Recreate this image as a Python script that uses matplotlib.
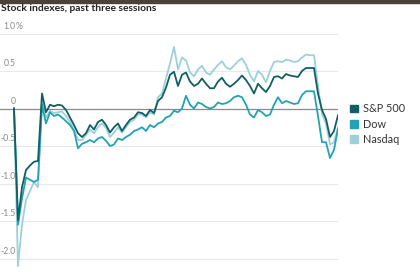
import matplotlib
matplotlib.use("Agg")
import matplotlib.pyplot as plt
import matplotlib.patches as mpatches
from matplotlib.transforms import blended_transform_factory

# Percent change over the past three sessions, sampled at regular intervals
sp500 = [0.00, -1.49, -1.05, -0.82, -0.76, -0.71, -0.70, 0.20, -0.05, 0.05,
         0.03, 0.05, 0.04, -0.02, -0.12, -0.22, -0.33, -0.38, -0.33, -0.22,
         -0.28, -0.18, -0.15, -0.22, -0.32, -0.25, -0.20, -0.30, -0.22, -0.15,
         -0.12, -0.05, -0.06, -0.10, -0.02, -0.06, 0.10, 0.15, 0.28, 0.45,
         0.49, 0.30, 0.45, 0.48, 0.36, 0.30, 0.33, 0.40, 0.33, 0.27,
         0.27, 0.36, 0.41, 0.33, 0.29, 0.33, 0.38, 0.44, 0.38, 0.30,
         0.20, 0.33, 0.27, 0.22, 0.30, 0.42, 0.43, 0.40, 0.46, 0.44,
         0.43, 0.42, 0.50, 0.54, 0.54, 0.54, 0.20, -0.02, -0.14, -0.38,
         -0.30, -0.09]
dow = [0.00, -1.55, -1.20, -0.92, -0.95, -0.98, -0.95, 0.05, -0.20, -0.05,
       -0.10, -0.08, -0.12, -0.17, -0.22, -0.30, -0.53, -0.47, -0.45, -0.42,
       -0.45, -0.40, -0.38, -0.43, -0.50, -0.48, -0.40, -0.42, -0.38, -0.35,
       -0.30, -0.28, -0.25, -0.30, -0.22, -0.25, -0.20, -0.18, -0.12, -0.10,
       -0.03, -0.05, 0.00, 0.17, 0.05, 0.00, 0.08, 0.06, 0.02, 0.00,
       0.02, 0.08, 0.06, 0.07, 0.10, 0.15, 0.17, 0.15, 0.05, -0.08,
       -0.12, -0.02, -0.05, -0.10, -0.08, 0.05, 0.15, 0.07, 0.10, 0.08,
       0.06, 0.07, 0.18, 0.23, 0.23, 0.23, -0.10, -0.45, -0.45, -0.66,
       -0.55, -0.27]
nasdaq = [0.00, -2.10, -1.55, -1.22, -1.10, -0.98, -1.05, 0.10, -0.12, -0.03,
          -0.06, -0.05, -0.04, -0.10, -0.18, -0.28, -0.42, -0.42, -0.35, -0.28,
          -0.33, -0.25, -0.20, -0.26, -0.38, -0.32, -0.25, -0.32, -0.25, -0.18,
          -0.15, -0.08, -0.08, -0.12, -0.05, -0.08, 0.15, 0.20, 0.40, 0.60,
          0.82, 0.52, 0.68, 0.64, 0.48, 0.43, 0.52, 0.57, 0.48, 0.45,
          0.52, 0.58, 0.63, 0.55, 0.52, 0.57, 0.63, 0.67, 0.58, 0.45,
          0.36, 0.50, 0.45, 0.35, 0.50, 0.62, 0.63, 0.62, 0.65, 0.64,
          0.62, 0.63, 0.68, 0.72, 0.71, 0.71, 0.30, -0.08, -0.20, -0.48,
          -0.45, -0.25]

series_names = ["S&P 500", "Dow", "Nasdaq"]
colors = {"S&P 500": "#115e63", "Dow": "#22a2b3", "Nasdaq": "#9dd0da"}
tick_values = [1.0, 0.5, 0.0, -0.5, -1.0, -1.5, -2.0]
tick_labels = ["1.0", "0.5", "0", "-0.5", "-1.0", "-1.5", "-2.0"]

plt.rcParams["font.family"] = ["Lato", "DejaVu Sans"]

W, H = 420, 280
fig = plt.figure(figsize=(W / 100, H / 100), dpi=100)

# axes placed in pixel terms: x index 0 at px 14, 4 px per step; 75 px per 1%
px_per_step = 4.0
x0_px, right_px = 14, 338
left_lim = -x0_px / px_per_step
right_lim = (right_px - x0_px) / px_per_step
zero_y = 108.5
ppu = 75.0
ytop, ybot = 1.25, -2.3
top_px = zero_y - ytop * ppu
bot_px = zero_y - ybot * ppu
ax = fig.add_axes([0, 1 - bot_px / H, right_px / W, (bot_px - top_px) / H])
ax.set_xlim(left_lim, right_lim)
ax.set_ylim(ybot, ytop)
ax.axis("off")

for v in tick_values:
    if v == 0:
        ax.axhline(v, color="#8a8a8a", lw=0.9, zorder=1)
    else:
        ax.axhline(v, color="#e8e8e8", lw=0.8, zorder=0)

# tick labels sit just above their gridlines, right aligned near the left edge
trans = blended_transform_factory(fig.transFigure, ax.transData)
lab_x = 15.5 / W
for v, lab in zip(tick_values, tick_labels):
    ax.text(lab_x, v + 0.035, lab, transform=trans, ha="right", va="bottom",
            fontsize=6.2, color="#8a8a8a", zorder=1)
ax.text(lab_x, 1.0 + 0.035, "%", transform=trans, ha="left", va="bottom",
        fontsize=6.2, color="#8a8a8a")

x = list(range(len(sp500)))
ax.plot(x, nasdaq, color=colors["Nasdaq"], lw=1.3, zorder=2)
ax.plot(x, dow, color=colors["Dow"], lw=1.3, zorder=3)
ax.plot(x, sp500, color=colors["S&P 500"], lw=1.3, zorder=4)

handles = [mpatches.Patch(color=colors[n], label=n) for n in series_names]
fig.legend(handles=handles, loc="upper left", bbox_to_anchor=(345 / W, 1 - 98 / H),
           frameon=False, fontsize=7.8, handlelength=0.7, handleheight=0.7,
           handletextpad=0.5, labelspacing=0.4, borderpad=0, labelcolor="#333333")

fig.text(1 / W, 1 - 4 / H, "Stock indexes, past three sessions", ha="left", va="top",
         fontsize=7.4, fontweight="bold", color="#222222")

# dark strip left over at the top of the screenshot
fig.patches.append(mpatches.Rectangle((0, 1 - 2.5 / H), 1, 2.5 / H, transform=fig.transFigure,
                                      color="#4a413a", zorder=0))

fig.savefig("out.png", dpi=100)
